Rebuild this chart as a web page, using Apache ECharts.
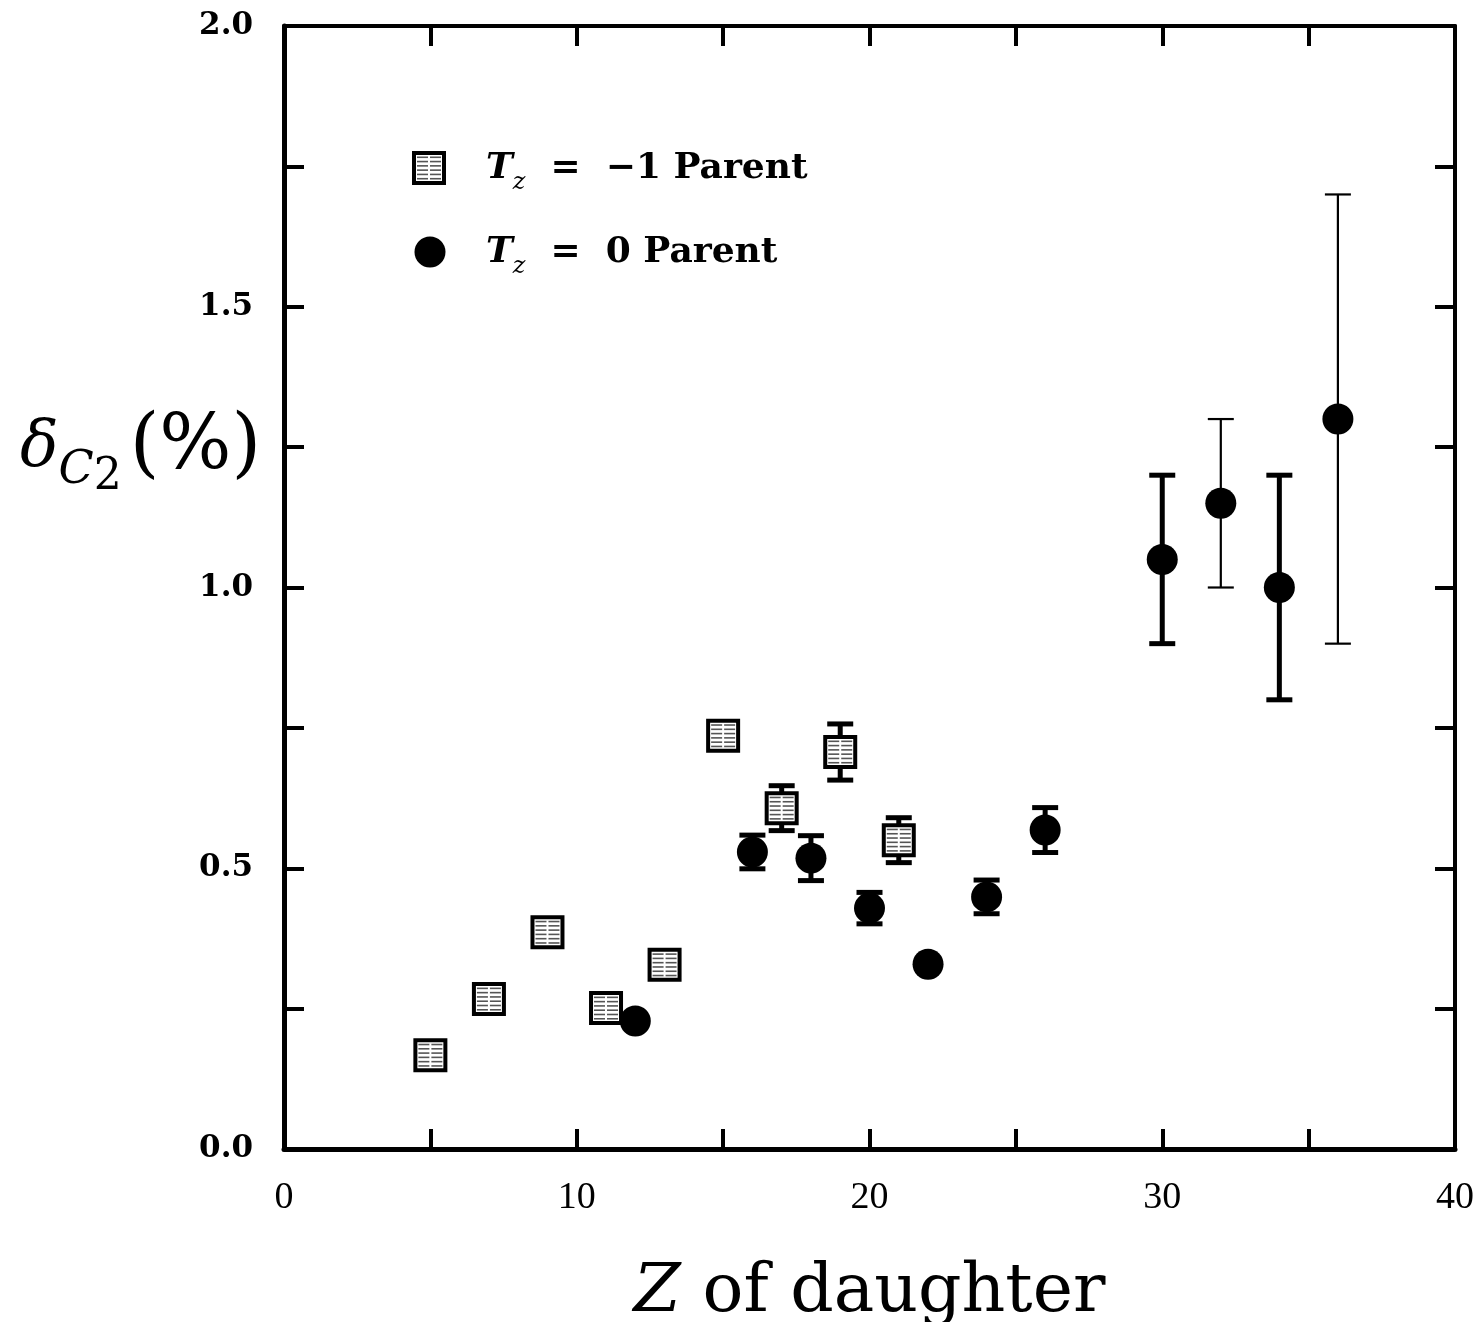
<!DOCTYPE html>
<html>
<head>
<meta charset="utf-8">
<script src="https://cdn.jsdelivr.net/npm/echarts@6/dist/echarts.min.js"></script>
<style>html,body{margin:0;padding:0;background:#fff}#c{width:1477px;height:1322px}</style>
</head>
<body>
<div id="c"></div>
<script>
// ---- data ----
const zSquare = [5, 7, 9, 11, 13, 15, 17, 19, 21];
const dSquare = [0.167, 0.267, 0.386, 0.251, 0.328, 0.736, 0.607, 0.707, 0.550];
const eSquare = [0, 0, 0, 0, 0, 0, 0.04, 0.05, 0.04];
const zCircle = [12, 16, 18, 20, 22, 24, 26, 30, 32, 34, 36];
const dCircle = [0.228, 0.529, 0.518, 0.429, 0.329, 0.449, 0.568, 1.05, 1.15, 1.0, 1.3];
const eCircle = [0, 0.03, 0.04, 0.028, 0, 0.03, 0.04, 0.15, 0.15, 0.2, 0.4];
const xTickLabels = [0, 10, 20, 30, 40];
const yTickLabels = [0.0, 0.5, 1.0, 1.5, 2.0];
const legendNames = ['T_z = \u22121 Parent', 'T_z = 0 Parent'];
// style constant: which error bars are drawn thin
const thinBarZ = [32, 36];

const SERIF = "'DejaVu Serif', 'Liberation Serif', serif";
const chart = echarts.init(document.getElementById('c'));

const squareData = zSquare.map((z, i) => [z, dSquare[i], eSquare[i]]);
const circleData = zCircle.map((z, i) => [z, dCircle[i], eCircle[i]]);

function errBar(api, x, y, e, lw) {
  const top = api.coord([x, y + e]);
  const bot = api.coord([x, y - e]);
  const cw = 13;
  const st = { stroke: '#000', lineWidth: lw };
  return [
    { type: 'line', shape: { x1: top[0], y1: top[1], x2: bot[0], y2: bot[1] }, style: st },
    { type: 'line', shape: { x1: top[0] - cw, y1: top[1], x2: top[0] + cw, y2: top[1] }, style: st },
    { type: 'line', shape: { x1: bot[0] - cw, y1: bot[1], x2: bot[0] + cw, y2: bot[1] }, style: st }
  ];
}

function hatchedSquare(cx, cy, s) {
  const h = s / 2;
  const ch = [
    { type: 'rect', shape: { x: cx - h, y: cy - h, width: s, height: s }, style: { fill: '#fff', stroke: '#000', lineWidth: 4 } }
  ];
  for (let k = 1; k <= 6; k++) {
    const yy = cy - h + k * s / 7;
    ch.push({ type: 'line', shape: { x1: cx - h + 3, y1: yy, x2: cx + h - 3, y2: yy }, style: { stroke: '#555', lineWidth: 1.6 } });
  }
  ch.push({ type: 'line', shape: { x1: cx, y1: cy - h + 3, x2: cx, y2: cy + h - 3 }, style: { stroke: '#fff', lineWidth: 2 } });
  return ch;
}

const axisCommon = {
  type: 'value',
  splitLine: { show: false },
  axisLine: { show: true, onZero: false, lineStyle: { color: '#000', width: 5 } },
  axisTick: { show: true, inside: true, length: 20, lineStyle: { color: '#000', width: 4 } }
};

function legendRich() {
  return {
    t: { fontFamily: SERIF, fontStyle: 'italic', fontWeight: 'bold', fontSize: 36, fill: '#000', verticalAlign: 'bottom', padding: [0, 0, 8, 0] },
    z: { fontFamily: SERIF, fontStyle: 'italic', fontSize: 24, fill: '#000', verticalAlign: 'bottom', padding: [0, 0, 0, 0] },
    r: { fontFamily: SERIF, fontWeight: 'bold', fontSize: 36, fill: '#000', verticalAlign: 'bottom', padding: [0, 0, 8, 0] }
  };
}

const option = {
  backgroundColor: '#fff',
  animation: false,
  grid: { left: 284, right: 22, top: 26, bottom: 173, containLabel: false, outerBoundsMode: 'none' },
  xAxis: [
    Object.assign({}, axisCommon, {
      min: 0, max: 40, interval: 5, position: 'bottom',
      axisLabel: {
        formatter: v => xTickLabels.indexOf(v) >= 0 ? String(v) : '',
        margin: 30, color: '#000', fontFamily: "'Liberation Serif', serif", fontSize: 38
      },
      name: '{i|Z} of daughter',
      nameLocation: 'middle', nameGap: 110,
      nameTextStyle: {
        color: '#000', fontFamily: SERIF, fontSize: 68,
        rich: { i: { fontFamily: SERIF, fontStyle: 'italic', fontSize: 68, color: '#000' } }
      }
    }),
    Object.assign({}, axisCommon, {
      min: 0, max: 40, interval: 5, position: 'top',
      axisLine: { show: true, onZero: false, lineStyle: { color: '#000', width: 4 } },
      axisLabel: { show: false }
    })
  ],
  yAxis: [
    Object.assign({}, axisCommon, {
      min: 0, max: 2, interval: 0.25, position: 'left',
      axisLabel: {
        formatter: v => yTickLabels.some(t => Math.abs(t - v) < 1e-9) ? v.toFixed(1) : '',
        margin: 31, color: '#000', fontFamily: SERIF, fontWeight: 'bold', fontSize: 31
      }
    }),
    Object.assign({}, axisCommon, {
      min: 0, max: 2, interval: 0.25, position: 'right',
      axisLine: { show: true, onZero: false, lineStyle: { color: '#000', width: 4 } },
      axisLabel: { show: false }
    })
  ],
  series: [
    {
      name: legendNames[1] + ' errors',
      type: 'custom',
      xAxisIndex: 0, yAxisIndex: 0,
      data: circleData,
      z: 2,
      renderItem: function (params, api) {
        const x = api.value(0), y = api.value(1), e = api.value(2);
        if (!(e > 0)) return { type: 'group', children: [] };
        const lw = thinBarZ.indexOf(x) >= 0 ? 2.2 : 5;
        return { type: 'group', children: errBar(api, x, y, e, lw) };
      }
    },
    {
      name: legendNames[1],
      type: 'scatter',
      xAxisIndex: 0, yAxisIndex: 0,
      data: circleData.map(d => [d[0], d[1]]),
      symbol: 'circle', symbolSize: 31,
      itemStyle: { color: '#000', opacity: 1 },
      z: 3
    },
    {
      name: legendNames[0],
      type: 'custom',
      xAxisIndex: 0, yAxisIndex: 0,
      data: squareData,
      z: 4,
      renderItem: function (params, api) {
        const x = api.value(0), y = api.value(1), e = api.value(2);
        const p = api.coord([x, y]);
        let ch = [];
        if (e > 0) ch = ch.concat(errBar(api, x, y, e, 5));
        ch = ch.concat(hatchedSquare(p[0], p[1], 30));
        return { type: 'group', children: ch };
      }
    }
  ],
  graphic: [
    { type: 'group', children: hatchedSquare(429, 168, 30) },
    { type: 'circle', shape: { cx: 430, cy: 252, r: 15.5 }, style: { fill: '#000' } },
    {
      type: 'text', left: 486, top: 151,
      style: { text: '{t|T}{z|z}{r|  =  \u22121 Parent}', rich: legendRich() }
    },
    {
      type: 'text', left: 486, top: 235,
      style: { text: '{t|T}{z|z}{r|  =  0 Parent}', rich: legendRich() }
    },
    {
      type: 'text', left: 20, top: 410,
      style: {
        text: '{d|\u03b4}{s|C}{n|2}{p|(%)}',
        rich: {
          d: { fontFamily: SERIF, fontStyle: 'italic', fontSize: 64, fill: '#000', verticalAlign: 'bottom', padding: [0, 0, 20, 0] },
          s: { fontFamily: SERIF, fontStyle: 'italic', fontSize: 46, fill: '#000', verticalAlign: 'bottom', padding: [0, 0, 6, 0] },
          n: { fontFamily: SERIF, fontSize: 44, fill: '#000', verticalAlign: 'bottom', padding: [0, 8, 0, 0] },
          p: { fontFamily: SERIF, fontSize: 76, fill: '#000', verticalAlign: 'bottom', padding: [0, 0, 14, 0] }
        }
      }
    }
  ]
};
chart.setOption(option);
</script>
</body>
</html>
